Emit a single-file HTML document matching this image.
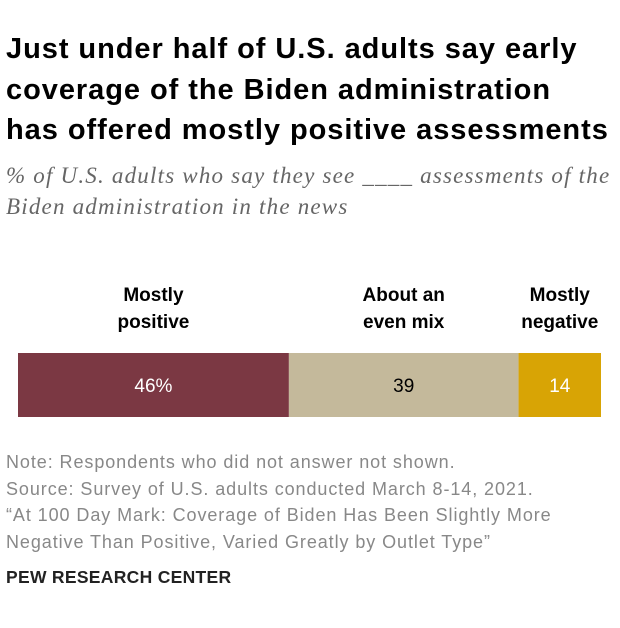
<!DOCTYPE html>
<html><head><meta charset="utf-8"><style>
body{margin:0;width:620px;height:628px;background:#fff;font-family:"Liberation Sans",sans-serif;position:relative;overflow:hidden}
.t{position:absolute;left:6px;top:29px;font-size:29px;font-weight:bold;line-height:40.5px;color:#000;letter-spacing:0.95px;white-space:nowrap}
.s{position:absolute;left:6px;top:160px;font-family:"Liberation Serif",serif;font-style:italic;font-size:23px;line-height:31px;color:#666;letter-spacing:1.2px;white-space:nowrap}
.lab{position:absolute;font-weight:bold;font-size:19px;line-height:27px;text-align:center;color:#000}
.n{position:absolute;left:6px;top:449px;font-size:18px;line-height:26.5px;color:#888;letter-spacing:0.92px;white-space:nowrap}
.p{position:absolute;left:6px;top:567px;font-size:17.5px;font-weight:bold;color:#222;letter-spacing:0.3px}
</style></head><body>
<div class="t">Just under half of U.S. adults say early<br>coverage of the Biden administration<br>has offered mostly positive assessments</div>
<div class="s">% of U.S. adults who say they see ____ assessments of the<br>Biden administration in the news</div>
<div id="labels"></div>
<svg id="chart" width="620" height="628" style="position:absolute;left:0;top:0"></svg>
<div class="n">Note: Respondents who did not answer not shown.<br>Source: Survey of U.S. adults conducted March 8-14, 2021.<br>“At 100 Day Mark: Coverage of Biden Has Been Slightly More<br>Negative Than Positive, Varied Greatly by Outlet Type”</div>
<div class="p">PEW RESEARCH CENTER</div>
<script>
const categories=["Mostly<br>positive","About an<br>even mix","Mostly<br>negative"];
const values=[46,39,14];
const valueLabels=["46%","39","14"];
const colors=["#7b3843","#c4b99b","#d8a405"];
const textColors=["#fff","#000","#fff"];
const x0=18,scale=583/99,y=353,h=64;
const xs=v=>v*scale;
const svg=document.getElementById('chart');
const lab=document.getElementById('labels');
let acc=0;
values.forEach((v,i)=>{
  const x=x0+xs(acc),w=xs(v);
  const r=document.createElementNS('http://www.w3.org/2000/svg','rect');
  
  
  r.setAttribute('x',x);r.setAttribute('y',y);r.setAttribute('width',w);r.setAttribute('height',h);r.setAttribute('fill',colors[i]);
  svg.appendChild(r);
  const t=document.createElementNS('http://www.w3.org/2000/svg','text');
  
  
  t.setAttribute('x',x+w/2);t.setAttribute('y',y+h/2+7);t.setAttribute('text-anchor','middle');
  t.setAttribute('font-size','19');t.setAttribute('font-family','Liberation Sans, sans-serif');t.setAttribute('fill',textColors[i]);
  t.textContent=valueLabels[i];svg.appendChild(t);
  const d=document.createElement('div');
  
  
  d.className='lab';d.innerHTML=categories[i];
  d.style.left=(x+w/2-80)+'px';d.style.width='160px';d.style.top='282px';
  lab.appendChild(d);
  acc+=v;
});
</script>
</body></html>
